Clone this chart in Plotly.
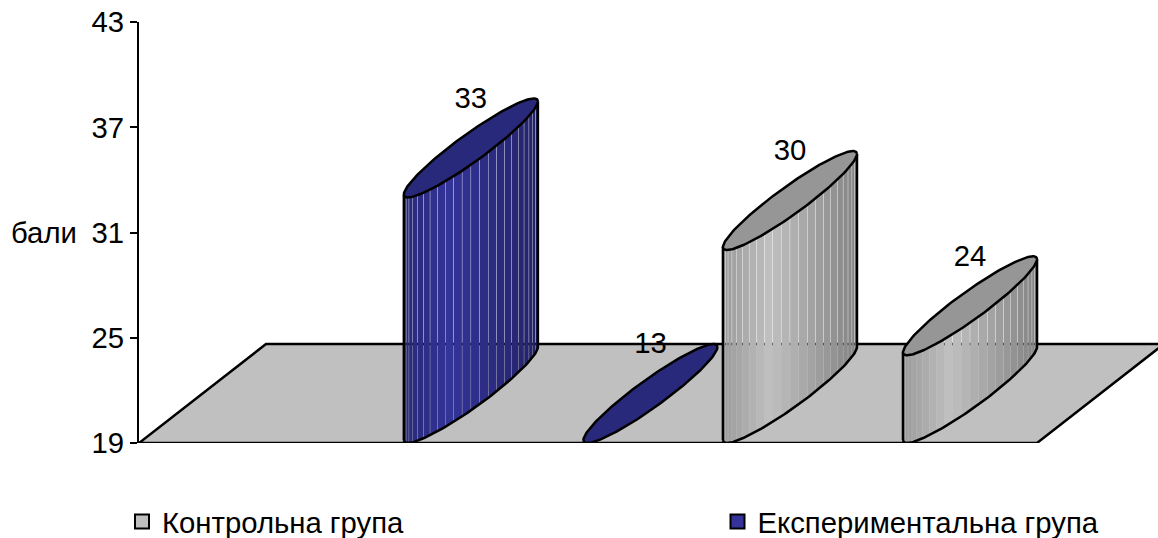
import numpy as np
import plotly.graph_objects as go

# Chart data
series_names = ["Контрольна група", "Експериментальна група"]
bar_series = [1, 1, 0, 0]
bar_values = [33, 13, 30, 24]
y_ticks = [19, 25, 31, 37, 43]
axis_title = "бали"

# Page and plot frame, in pixels
WIDTH, HEIGHT = 1158, 538
M_LEFT, M_TOP, M_BOTTOM = 139, 22, 95
FONT = "Liberation Sans, Arial, sans-serif"
FONT_SIZE = 29.3

# Scales: x is measured in slots along the front edge of the floor
SLOT_PX = 149.67
PLOT_W = WIDTH - M_LEFT
PLOT_H = HEIGHT - M_TOP - M_BOTTOM
PX_PER_VALUE = PLOT_H / (y_ticks[-1] - y_ticks[0])
X_MAX = PLOT_W / SLOT_PX
Y_MIN = y_ticks[0]

# Oblique projection of the depth direction
DEPTH_X = 127 / SLOT_PX
DEPTH_Y = 99 / PX_PER_VALUE
FLOOR_SLOTS = 6.0
BAR_SLOTS = [1.793, 2.993, 3.925, 5.128]
LABEL_DROP = 2 / PX_PER_VALUE

# Styles
BASE_COLORS = [(192, 192, 192), (51, 51, 153)]
TOP_COLORS = ["#969696", "#29297b"]
FLOOR_COLOR = "#c0c0c0"
LINE_W = 2.5
AXIS_W = 2
N_STRIPS = 24
STRIP_GAP = 0.4 / SLOT_PX

a = 22.9 / SLOT_PX
b = 63 / SLOT_PX
# Screen-space ellipse semi-axis along x, in slot units
R = np.hypot(a, b)
t_star = np.arctan2(b, a)


def disk(cx, level, phi):
    """Project a point of a round bar section onto the plot."""
    t = phi + t_star
    return cx + R * np.cos(phi), level + DEPTH_Y / 2 * (1 + np.sin(t))


def shade(rgb, u):
    """Side colour at fraction u across the visible bar face."""
    f = np.interp(u, [0.0, 0.35, 1.0], [0.80, 1.0, 0.68])
    return "rgb(%d,%d,%d)" % tuple(int(round(c * f)) for c in rgb)


fig = go.Figure()


def line_trace(x, y, **kw):
    fig.add_trace(go.Scatter(
        x=x, y=y, mode="lines", showlegend=False, hoverinfo="skip",
        cliponaxis=False, line=dict(color="black", width=LINE_W), **kw,
    ))


# Floor
line_trace(
    [0, FLOOR_SLOTS, FLOOR_SLOTS + DEPTH_X, DEPTH_X, 0],
    [Y_MIN, Y_MIN, Y_MIN + DEPTH_Y, Y_MIN + DEPTH_Y, Y_MIN],
    fill="toself", fillcolor=FLOOR_COLOR,
)

# Bars
for slot, value, s in zip(BAR_SLOTS, bar_values, bar_series):
    top = max(value, Y_MIN)
    # Bar sections are centred halfway through the floor depth
    cx = slot + DEPTH_X / 2
    if top > Y_MIN:
        # Front half of the cylinder, split into shaded vertical strips
        edges = np.linspace(np.pi, 2 * np.pi, N_STRIPS + 1)
        for i in range(N_STRIPS):
            phi = edges[i:i + 2]
            xs, lows = disk(cx, Y_MIN, phi)
            _, highs = disk(cx, top, phi)
            u = (xs.mean() - (cx - R)) / (2 * R)
            x0, x1 = xs[0] + STRIP_GAP / 2, xs[1] - STRIP_GAP / 2
            fig.add_trace(go.Scatter(
                x=[x0, x1, x1, x0, x0],
                y=[highs[0], highs[1], lows[1], lows[0], highs[0]],
                mode="lines", fill="toself", fillcolor=shade(BASE_COLORS[s], u),
                line=dict(width=0), showlegend=False, hoverinfo="skip",
                cliponaxis=False,
            ))
        arc = np.linspace(np.pi, 2 * np.pi, 90)
        xs, lows = disk(cx, Y_MIN, arc)
        _, highs = disk(cx, top, arc)
        line_trace(xs, lows)
        line_trace([xs[0], xs[0]], [lows[0], highs[0]])
        line_trace([xs[-1], xs[-1]], [lows[-1], highs[-1]])
    # Top face
    ring = np.linspace(0, 2 * np.pi, 181)
    xs, ys = disk(cx, top, ring)
    line_trace(xs, ys, fill="toself", fillcolor=TOP_COLORS[s])

# Value labels
label_x = [slot + DEPTH_X / 2 for slot in BAR_SLOTS]
label_y = [max(v, Y_MIN) + DEPTH_Y - LABEL_DROP for v in bar_values]
fig.add_trace(go.Scatter(
    x=label_x, y=label_y, text=[str(v) for v in bar_values],
    mode="text", textposition="middle center", showlegend=False,
    hoverinfo="skip", cliponaxis=False,
    textfont=dict(family=FONT, size=FONT_SIZE, color="black"),
))

# Legend entries, one legend box per series
for name, rgb, legend_id in zip(series_names, BASE_COLORS, ["legend", "legend2"]):
    fig.add_trace(go.Scatter(
        x=[None], y=[None], mode="markers", name=name, legend=legend_id,
        marker=dict(symbol="square", size=14, color="rgb(%d,%d,%d)" % rgb,
                    line=dict(color="black", width=2)),
    ))


def legend_box(x_px):
    return dict(
        xref="container", yref="container",
        x=x_px / WIDTH, y=1 - 522 / HEIGHT, xanchor="left", yanchor="middle",
        bgcolor="rgba(0,0,0,0)",
        font=dict(family=FONT, size=FONT_SIZE, color="black"),
        itemclick=False, itemdoubleclick=False,
    )


fig.update_layout(
    width=WIDTH, height=HEIGHT, autosize=False,
    margin=dict(l=M_LEFT, r=0, t=M_TOP, b=M_BOTTOM, pad=0, autoexpand=False),
    paper_bgcolor="white", plot_bgcolor="white",
    font=dict(family=FONT, size=FONT_SIZE, color="black"),
    hovermode=False,
    xaxis=dict(range=[0, X_MAX], visible=False, fixedrange=True),
    yaxis=dict(
        range=[y_ticks[0], y_ticks[-1]], tickmode="array", tickvals=y_ticks,
        showgrid=False, zeroline=False, showline=True, linecolor="black",
        linewidth=AXIS_W, ticks="outside", ticklen=7, tickwidth=AXIS_W,
        tickcolor="black", ticklabelstandoff=0, fixedrange=True,
        tickfont=dict(family=FONT, size=FONT_SIZE, color="black"),
    ),
    legend=legend_box(122),
    legend2=legend_box(717.5),
    annotations=[dict(
        text=axis_title, xref="paper", yref="y", x=-60 / PLOT_W, y=y_ticks[2],
        xanchor="right", yanchor="middle", showarrow=False,
        font=dict(family=FONT, size=FONT_SIZE, color="black"),
    )],
)

fig.write_html("out.html", config=dict(displayModeBar=False))
